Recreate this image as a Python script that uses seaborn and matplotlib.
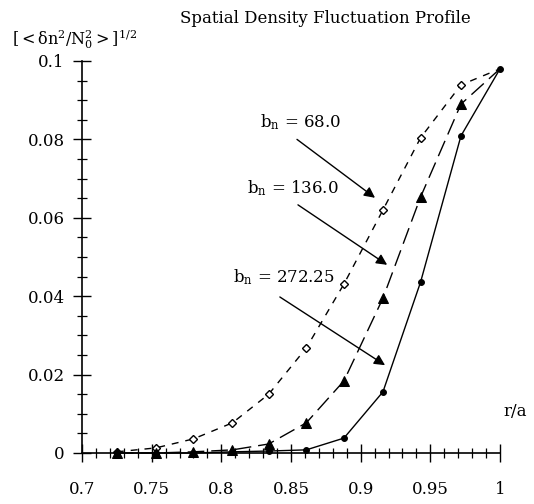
import numpy as np
import pandas as pd
import matplotlib
matplotlib.use("Agg")
import matplotlib.pyplot as plt
from matplotlib.ticker import MultipleLocator
import seaborn as sns

# r/a positions
r_a = [0.725, 0.753, 0.780, 0.808, 0.834, 0.861, 0.888, 0.916, 0.943, 0.972, 1.0]

# b_n = 68.0, open diamonds, short dashes
dens_68 = [0.0003, 0.0013, 0.0036, 0.0077, 0.0150, 0.0268, 0.0431, 0.0620, 0.0804, 0.0939, 0.098]
# b_n = 136.0, filled triangles, long dashes
dens_136 = [0.0, 0.0, 0.0003, 0.0008, 0.0023, 0.0077, 0.0184, 0.0395, 0.0653, 0.0890, 0.098]
# b_n = 272.25, filled circles, solid
dens_272 = [0.0, 0.0, 0.0, 0.0003, 0.0005, 0.0008, 0.0038, 0.0156, 0.0436, 0.0809, 0.098]

xticks = [0.7, 0.75, 0.8, 0.85, 0.9, 0.95, 1]
xtick_labels = ["0.7", "0.75", "0.8", "0.85", "0.9", "0.95", "1"]
yticks = [0, 0.02, 0.04, 0.06, 0.08, 0.1]
ytick_labels = ["0", "0.02", "0.04", "0.06", "0.08", "0.1"]

sns.set_style("ticks")
plt.rcParams['font.family'] = ['DejaVu Serif']
plt.rcParams['mathtext.fontset'] = 'dejavuserif'
plt.rcParams['text.color'] = 'black'
plt.rcParams['xtick.labelcolor'] = 'black'
plt.rcParams['ytick.labelcolor'] = 'black'
plt.rcParams['axes.edgecolor'] = 'black'

fig = plt.figure(figsize=(5.34, 5.04), dpi=100)
ax = fig.add_axes([0.1536, 0.1012, 0.7827, 0.7778])

sns.lineplot(x=r_a, y=dens_68, ax=ax, color='black', lw=1.0,
             linestyle=(0, (5, 5)), marker='D', markersize=4.5,
             markerfacecolor='white', markeredgecolor='black', markeredgewidth=1,
             markevery=slice(0, -1))
sns.lineplot(x=r_a, y=dens_136, ax=ax, color='black', lw=1.0,
             linestyle=(0, (12, 5)), marker='^', markersize=6.5,
             markerfacecolor='black', markeredgecolor='black',
             markevery=slice(0, -1))
sns.lineplot(x=r_a, y=dens_272, ax=ax, color='black', lw=1.0,
             marker='o', markersize=4.2, markerfacecolor='black',
             markeredgecolor='black')

ax.set_xlim(0.7, 1.0)
ax.set_ylim(0, 0.1)
ax.set_xticks(xticks)
ax.set_xticklabels(xtick_labels)
ax.set_yticks(yticks)
ax.set_yticklabels(ytick_labels)
ax.xaxis.set_minor_locator(MultipleLocator(0.01))
ax.yaxis.set_minor_locator(MultipleLocator(0.005))
ax.tick_params(which='major', direction='inout', length=13, width=1.0,
               labelsize=12, color='black', labelcolor='black')
ax.tick_params(axis='x', which='major', pad=14)
ax.tick_params(axis='y', which='major', pad=6)
ax.tick_params(which='minor', direction='inout', length=7, width=0.9, color='black')
sns.despine(ax=ax)
ax.spines['left'].set_linewidth(1.2)
ax.spines['bottom'].set_linewidth(1.2)
for s in ax.spines.values():
    s.set_clip_on(False)
for ln in ax.lines:
    ln.set_clip_on(False)

arrow = dict(arrowstyle='-|>', color='black', lw=1.0, mutation_scale=16,
             shrinkA=0, shrinkB=0)
ax.text(0.8278, 0.0844, r'b$_\mathrm{n}$ = 68.0', fontsize=12, va='center')
ax.annotate('', xy=(0.9103, 0.0651), xytext=(0.8543, 0.0800), arrowprops=arrow)
ax.text(0.8185, 0.0676, r'b$_\mathrm{n}$ = 136.0', fontsize=12, va='center')
ax.annotate('', xy=(0.919, 0.048), xytext=(0.855, 0.0633), arrowprops=arrow)
ax.text(0.8084, 0.0449, r'b$_\mathrm{n}$ = 272.25', fontsize=12, va='center')
ax.annotate('', xy=(0.9175, 0.0224), xytext=(0.842, 0.0398), arrowprops=arrow)

fig.text(0.6086, 0.964, 'Spatial Density Fluctuation Profile', fontsize=12,
         ha='center', va='center')
fig.text(0.022, 0.912, r'$[<\mathrm{\delta n}^2/\mathrm{N}^2_0>]^{1/2}$', fontsize=11.5,
         ha='left', va='baseline')
fig.text(0.942, 0.183, 'r/a', fontsize=12, ha='left', va='center')

fig.savefig('out.png', dpi=100)
